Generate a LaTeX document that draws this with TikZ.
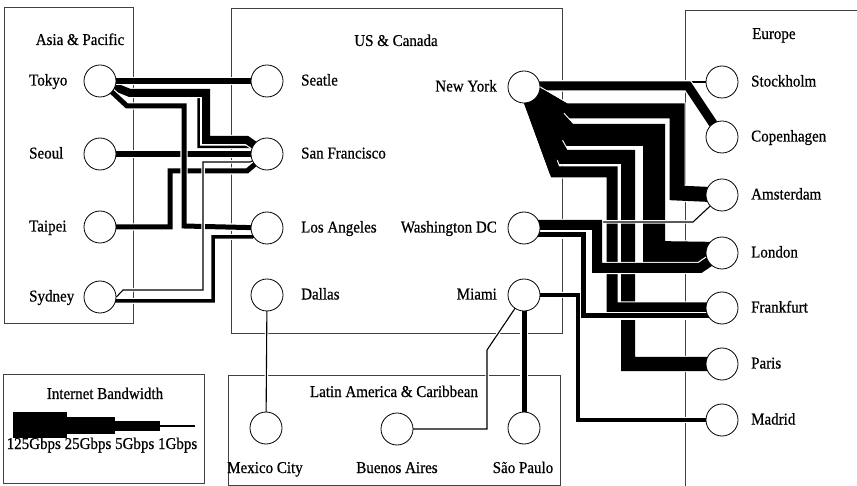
\documentclass[tikz,border=0pt]{standalone}
\usepackage{fontspec}
\setmainfont{Liberation Serif}[FakeStretch=0.91,FakeBold=0.6]
\pgfdeclarelayer{bg}
\pgfdeclarelayer{links}
\pgfsetlayers{bg,links,main}
\begin{document}
\begin{tikzpicture}[x=1pt,y=-1pt,
  city/.style={circle,draw,fill=white,minimum size=32pt,inner sep=0pt,line width=0.8pt},
  lbl/.style={font=\fontsize{16.5}{18}\selectfont,inner sep=0pt},
  box/.style={draw=black!75,line width=0.7pt},
  link/.style={line width=#1,line join=miter,preaction={draw=white,line width=#1+2.4,line join=miter}},
  thinlink/.style={link=1.1},
  wedge/.style={line width=#1}]
\useasboundingbox (0,0) rectangle (857,486);
\begin{pgfonlayer}{bg}
\fill[white] (0,0) rectangle (857,486);
\draw[box] (4,7) rectangle (133,323);
\draw[box] (231,8) rectangle (562,333);
\draw[box] (857,10) -- (685,10) -- (685,486);
\draw[box] (228,375) rectangle (560,485);
\draw[box] (3,374) rectangle (204,483);
\end{pgfonlayer}

% cities
\node[city] (tokyo) at (100,81) {};
\node[city] (seoul) at (100,154) {};
\node[city] (taipei) at (100,227) {};
\node[city] (sydney) at (100,297) {};
\node[city] (seatle) at (267,81) {};
\node[city] (sf) at (267,154) {};
\node[city] (la) at (267,228) {};
\node[city] (dallas) at (267,295) {};
\node[city] (ny) at (524,87) {};
\node[city] (dc) at (524,228) {};
\node[city] (miami) at (524,295) {};
\node[city] (sto) at (722,82) {};
\node[city] (cph) at (722,137) {};
\node[city] (ams) at (722,195) {};
\node[city] (lon) at (722,253) {};
\node[city] (fra) at (722,308) {};
\node[city] (par) at (722,364) {};
\node[city] (mad) at (722,420) {};
\node[city] (mex) at (266,428) {};
\node[city] (ba) at (397,429) {};
\node[city] (sp) at (524,428) {};

% titles
\node[lbl,anchor=base] (tAsia) at (80,45) {Asia \& Pacific};
\node[lbl,anchor=base] (tUS) at (396,46) {US \& Canada};
\node[lbl,anchor=base west] (tEu) at (752,39) {Europe};
\node[lbl,anchor=base] (tLat) at (394,397) {Latin America \& Caribbean};
\node[lbl,anchor=base] (tLeg) at (105,399) {Internet Bandwidth};

% city labels
\node[lbl,anchor=base west] (lTokyo) at (29,85.5) {Tokyo};
\node[lbl,anchor=base west] (lSeoul) at (29,158.5) {Seoul};
\node[lbl,anchor=base west] (lTaipei) at (29,231.5) {Taipei};
\node[lbl,anchor=base west] (lSydney) at (29,301.5) {Sydney};
\node[lbl,anchor=base west] (lSeatle) at (301,85.5) {Seatle};
\node[lbl,anchor=base west] (lSF) at (301,158.5) {San Francisco};
\node[lbl,anchor=base west] (lLA) at (301,232.5) {Los Angeles};
\node[lbl,anchor=base west] (lDallas) at (301,299.5) {Dallas};
\node[lbl,anchor=base east] (lNY) at (497,91.5) {New York};
\node[lbl,anchor=base east] (lDC) at (497,232.5) {Washington DC};
\node[lbl,anchor=base east] (lMiami) at (497,299.5) {Miami};
\node[lbl,anchor=base west] (lSto) at (751,86.5) {Stockholm};
\node[lbl,anchor=base west] (lCph) at (751,141.5) {Copenhagen};
\node[lbl,anchor=base west] (lAms) at (751,199.5) {Amsterdam};
\node[lbl,anchor=base west] (lLon) at (751,257.5) {London};
\node[lbl,anchor=base west] (lFra) at (751,312.5) {Frankfurt};
\node[lbl,anchor=base west] (lPar) at (751,368.5) {Paris};
\node[lbl,anchor=base west] (lMad) at (751,424.5) {Madrid};
\node[lbl,anchor=base] (lMex) at (265,473) {Mexico City};
\node[lbl,anchor=base] (lBA) at (397,473) {Buenos Aires};
\node[lbl,anchor=base] (lSP) at (523,473) {São Paulo};

% legend
\fill (13,412) rectangle (67,438);
\fill (67,417) rectangle (115,434);
\fill (115,421) rectangle (160,431);
\draw[line width=1.5pt] (160,426) -- (195,426);
\node[lbl,anchor=base] (lLegend) at (102,449) {125Gbps 25Gbps 5Gbps 1Gbps};

\begin{pgfonlayer}{links}
% Asia - US
\draw[link=2.5] (tokyo.center) -- (130,93) -- (198.5,93) -- (198.5,147) -- (250,147) -- (sf.center);
\draw[link=8] (tokyo.center) -- (130,93) -- (206,93) -- (206,140) -- (247,140) -- (sf.center);
\draw[link=6] (tokyo.center) -- (seatle.center);
\draw[link=6] (seoul.center) -- (sf.center);
\draw[link=5] (taipei.center) -- (170,227) -- (170,171) -- (247,171) -- (sf.center);
\draw[link=5] (tokyo.center) -- (127,106) -- (184,106) -- (184,226) -- (la.center);
\draw[thinlink] (sydney.east) -- (123,290) -- (203,290) -- (203,162) -- (250,162) -- (sf.center);
\draw[link=3.5] ([yshift=-4pt]sydney.center) -- (213,301) -- (213,237) -- (252,237) -- (la.center);
% New York - Europe
\draw[thinlink] ([yshift=5pt]ny.center) -- (686,82) -- (sto.center);
\draw[link=9] ([yshift=1pt]ny.center) -- (688,86) -- (cph.center);
\draw[link=15] (ny.center) -- (565,111) -- (677,111) -- (677,193) -- (ams.center);
\draw[link=22] (ny.center) -- (568,135) -- (654,135) -- (654,252) -- (lon.center);
\draw[link=14] (ny.center) -- (563,157) -- (628,157) -- (628,364) -- (par.center);
\draw[link=11] (ny.center) -- (555,172) -- (612,172) -- (612,308) -- (fra.center);
% solid wedge where the New York routes leave the node
\draw[wedge=15] (ny.center) -- (565,111);
\draw[wedge=22] (ny.center) -- (568,135);
\draw[wedge=14] (ny.center) -- (563,157);
\draw[wedge=11] (ny.center) -- (555,172);
% Washington DC - Europe
\draw[thinlink] ([yshift=6pt]dc.center) -- (693,222) -- (ams.center);
\draw[link=10] ([yshift=3pt]dc.center) -- (597,225) -- (597,268) -- (700,268) -- (lon.center);
\draw[link=5] ([yshift=-7pt]dc.center) -- (583,235) -- (583,316) -- ([yshift=-8pt]fra.center);
% Miami
\draw[link=4] (miami.center) -- (578,295) -- (578,420) -- (mad.center);
\draw[link=5] (miami.center) -- (sp.center);
\draw[thinlink] (miami.center) -- (487,350) -- (487,429) -- (ba.center);
\draw[thinlink] (dallas.center) -- (mex.center);
\end{pgfonlayer}
\end{tikzpicture}
\end{document}
